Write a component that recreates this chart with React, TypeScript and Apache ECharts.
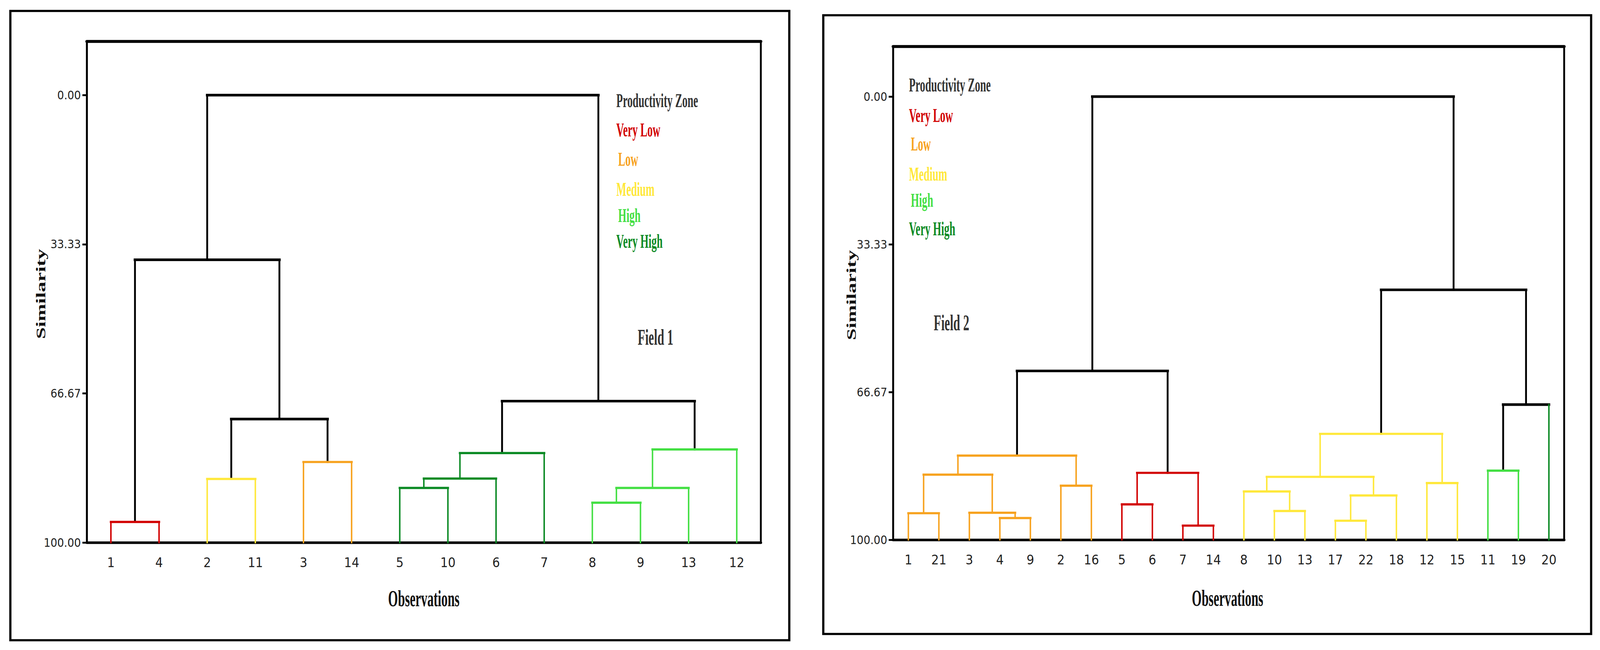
import React, { useEffect, useRef } from 'react';
import * as echarts from 'echarts';

// ---------------- DATA ----------------
const Y_TICKS = [0, 100 / 3, 200 / 3, 100];

const ZONE_LABELS = ['Very Low', 'Low', 'Medium', 'High', 'Very High'];
const ZONE_KEYS = ['VL', 'L', 'M', 'H', 'VH'];
const ZONE_COLORS: Record<string, string> = {
  VL: '#d20000',
  L: '#f7a21e',
  M: '#ffe83a',
  H: '#43df43',
  VH: '#0b8a24',
  K: '#000000',
};

// Field 1
const F1_LEAVES = ['1', '4', '2', '11', '3', '14', '5', '10', '6', '7', '8', '9', '13', '12'];
const F1_LEAF_ZONES = ['VL', 'VL', 'M', 'M', 'L', 'L', 'VH', 'VH', 'VH', 'VH', 'H', 'H', 'H', 'H'];
// [child a, child b, similarity level, zone]; ids < n are leaves, ids >= n are earlier merges
const F1_MERGES: [number, number, number, string][] = [
  [0, 1, 95.4, 'VL'],
  [2, 3, 85.8, 'M'],
  [4, 5, 82.0, 'L'],
  [15, 16, 72.4, 'K'],
  [14, 17, 36.8, 'K'],
  [6, 7, 87.8, 'VH'],
  [19, 8, 85.7, 'VH'],
  [20, 9, 80.0, 'VH'],
  [10, 11, 91.1, 'H'],
  [22, 12, 87.8, 'H'],
  [23, 13, 79.2, 'H'],
  [21, 24, 68.4, 'K'],
  [18, 25, 0, 'K'],
];

// Field 2
const F2_LEAVES = ['1', '21', '3', '4', '9', '2', '16', '5', '6', '7', '14', '8', '10', '13', '17', '22', '18', '12', '15', '11', '19', '20'];
const F2_LEAF_ZONES = ['L', 'L', 'L', 'L', 'L', 'L', 'L', 'VL', 'VL', 'VL', 'VL', 'M', 'M', 'M', 'M', 'M', 'M', 'M', 'M', 'H', 'H', 'VH'];
const F2_MERGES: [number, number, number, string][] = [
  [0, 1, 94.0, 'L'],
  [3, 4, 95.1, 'L'],
  [2, 23, 93.9, 'L'],
  [22, 24, 85.3, 'L'],
  [5, 6, 87.8, 'L'],
  [25, 26, 81.0, 'L'],
  [7, 8, 92.0, 'VL'],
  [9, 10, 96.8, 'VL'],
  [28, 29, 84.9, 'VL'],
  [27, 30, 61.9, 'K'],
  [12, 13, 93.5, 'M'],
  [11, 32, 89.1, 'M'],
  [14, 15, 95.7, 'M'],
  [34, 16, 90.0, 'M'],
  [33, 35, 85.8, 'M'],
  [17, 18, 87.2, 'M'],
  [36, 37, 76.1, 'M'],
  [19, 20, 84.4, 'H'],
  [39, 21, 69.5, 'K'],
  [38, 40, 43.6, 'K'],
  [31, 41, 0, 'K'],
];

// ---------------- BUILD ----------------
const REF_W = 4330;
const REF_H = 1663;

type Seg = { x1: number; y1: number; x2: number; y2: number; color: string; width: number; black: boolean };

function buildSegments(leaves: string[], zones: string[], merges: [number, number, number, string][]): Seg[] {
  const n = leaves.length;
  const pos: number[] = [];
  const lev: number[] = [];
  for (let i = 0; i < n; i++) {
    pos[i] = i;
    lev[i] = 100;
  }
  const segs: Seg[] = [];
  merges.forEach(([a, b, h, z], k) => {
    const id = n + k;
    pos[id] = (pos[a] + pos[b]) / 2;
    lev[id] = h;
    const mergeColor = ZONE_COLORS[z];
    const isBlack = z === 'K';
    [a, b].forEach((c) => {
      const leaf = c < n;
      const col = leaf ? ZONE_COLORS[zones[c]] : mergeColor;
      const blk = col === '#000000';
      segs.push({ x1: pos[c], y1: lev[c], x2: pos[c], y2: h, color: col, width: blk ? 5 : 4, black: blk });
    });
    segs.push({ x1: pos[a], y1: h, x2: pos[b], y2: h, color: mergeColor, width: isBlack ? 7 : 6, black: isBlack });
  });
  return segs;
}

const SEGS1 = buildSegments(F1_LEAVES, F1_LEAF_ZONES, F1_MERGES);
const SEGS2 = buildSegments(F2_LEAVES, F2_LEAF_ZONES, F2_MERGES);

const TICK_FONT = "'Liberation Sans Narrow', 'Arial Narrow', 'DejaVu Sans Condensed', 'Liberation Sans', sans-serif";
const SERIF = "'Liberation Serif', 'Times New Roman', serif";

function buildOption(W: number, H: number) {
  const sx = W / REF_W;
  const sy = H / REF_H;
  const s = Math.min(sx, sy);
  const X = (v: number) => v * sx;
  const Y = (v: number) => v * sy;
  const S = (v: number) => v * s;

  function makeAxes(gi: number, leaves: string[], yMin: number) {
    const xCat = {
      gridIndex: gi,
      type: 'category',
      data: leaves,
      position: 'bottom',
      boundaryGap: true,
      axisLine: { onZero: false, lineStyle: { color: '#000', width: S(7) } },
      axisTick: { alignWithLabel: true, length: S(20), lineStyle: { color: '#000', width: S(5) } },
      axisLabel: { interval: 0, fontSize: S(36), margin: S(36), color: '#222', fontFamily: TICK_FONT },
      splitLine: { show: false },
    };
    const xVal = {
      gridIndex: gi,
      type: 'value',
      min: -0.5,
      max: leaves.length - 0.5,
      position: 'top',
      axisLine: { show: true, onZero: false, lineStyle: { color: '#000', width: S(8) } },
      axisTick: { show: false },
      axisLabel: { show: false },
      splitLine: { show: false },
    };
    const y = {
      gridIndex: gi,
      type: 'value',
      inverse: true,
      min: yMin,
      max: 100,
      axisLine: { show: true, onZero: false, lineStyle: { color: '#000', width: S(5) } },
      axisTick: { show: true, customValues: Y_TICKS, length: S(12), lineStyle: { color: '#000', width: S(5) } },
      axisLabel: {
        customValues: Y_TICKS,
        formatter: (v: number) => v.toFixed(2),
        fontSize: S(32),
        margin: S(16),
        color: '#222',
        fontFamily: TICK_FONT,
      },
      splitLine: { show: false },
    };
    return { xCat, xVal, y };
  }

  function makeSeries(segs: Seg[], xi: number, yi: number) {
    return {
      type: 'custom',
      coordinateSystem: 'cartesian2d',
      xAxisIndex: xi,
      yAxisIndex: yi,
      clip: false,
      data: segs.map((sg) => [sg.x1, sg.y1, sg.x2, sg.y2]),
      encode: { x: [0, 2], y: [1, 3] },
      renderItem: (params: any, api: any) => {
        const sg = segs[params.dataIndex];
        const a = api.coord([api.value(0), api.value(1)]);
        const b = api.coord([api.value(2), api.value(3)]);
        return {
          type: 'line',
          z2: sg.black ? 1 : 2,
          shape: { x1: a[0], y1: a[1], x2: b[0], y2: b[1] },
          style: { stroke: sg.color, lineWidth: S(sg.width), lineCap: 'square' },
        };
      },
    };
  }

  function legendTexts(x: number, ys: number[]) {
    const items: any[] = [
      {
        type: 'text',
        x: X(x),
        y: Y(ys[0]),
        scaleX: 0.53,
        style: { text: 'Productivity Zone', fontSize: S(54), fontWeight: 'bold', fontFamily: SERIF, fill: '#333', align: 'left', verticalAlign: 'middle' },
      },
    ];
    ZONE_LABELS.forEach((lab, i) => {
      const indent = lab === 'Low' || lab === 'High' ? 5 : 0;
      items.push({
        type: 'text',
        x: X(x + indent),
        y: Y(ys[i + 1]),
        scaleX: 0.53,
        style: { text: lab, fontSize: S(54), fontWeight: 'bold', fontFamily: SERIF, fill: ZONE_COLORS[ZONE_KEYS[i]], align: 'left', verticalAlign: 'middle' },
      });
    });
    return items;
  }

  function titleText(text: string, x: number, y: number, size: number, fill: string) {
    return {
      type: 'text',
      x: X(x),
      y: Y(y),
      scaleX: 0.55,
      style: { text, fontSize: S(size), fontWeight: 'bold', fontFamily: SERIF, fill, align: 'center', verticalAlign: 'middle' },
    };
  }

  function simText(x: number, y: number) {
    return {
      type: 'text',
      x: X(x),
      y: Y(y),
      rotation: Math.PI / 2,
      scaleY: 0.62,
      style: { text: 'Similarity', fontSize: S(57), fontWeight: 'bold', fontFamily: SERIF, fill: '#111', align: 'center', verticalAlign: 'middle' },
    };
  }

  const A1 = makeAxes(0, F1_LEAVES, -12);
  const A2 = makeAxes(1, F2_LEAVES, -11.3);

  return {
    animation: false,
    backgroundColor: '#ffffff',
    grid: [
      { left: X(235), top: Y(106), width: X(1824), height: Y(1282), show: true, borderColor: '#000', borderWidth: S(5), backgroundColor: 'transparent', outerBoundsMode: 'none' },
      { left: X(2417), top: Y(119), width: X(1816), height: Y(1262), show: true, borderColor: '#000', borderWidth: S(5), backgroundColor: 'transparent', outerBoundsMode: 'none' },
    ],
    xAxis: [A1.xCat, A1.xVal, A2.xCat, A2.xVal],
    yAxis: [A1.y, A2.y],
    series: [makeSeries(SEGS1, 1, 0), makeSeries(SEGS2, 3, 1)],
    graphic: [
      { type: 'rect', shape: { x: X(28), y: Y(28), width: X(2108), height: Y(1610) }, style: { fill: 'none', stroke: '#000', lineWidth: S(6) } },
      { type: 'rect', shape: { x: X(2228), y: Y(39), width: X(2078), height: Y(1583) }, style: { fill: 'none', stroke: '#000', lineWidth: S(6) } },
      ...legendTexts(1668, [257, 332, 407, 484, 551, 617]),
      ...legendTexts(2460, [217, 295, 368, 445, 512, 585]),
      titleText('Field 1', 1774, 863, 60, '#333'),
      titleText('Field 2', 2575, 826, 60, '#333'),
      titleText('Observations', 1147, 1531, 62, '#111'),
      titleText('Observations', 3322, 1530, 62, '#111'),
      simText(111, 752),
      simText(2304, 755),
    ],
  };
}

export default function App() {
  const ref = useRef<HTMLDivElement>(null);
  useEffect(() => {
    const el = ref.current;
    if (!el) return;
    const chart = echarts.init(el, null, { renderer: 'svg' });
    const W = el.clientWidth || REF_W;
    const H = el.clientHeight || REF_H;
    chart.setOption(buildOption(W, H) as any);
    return () => chart.dispose();
  }, []);
  return (
    <div
      ref={ref}
      style={{ position: 'fixed', left: 0, top: 0, width: '100vw', height: '100vh', background: '#fff', overflow: 'hidden' }}
    />
  );
}
